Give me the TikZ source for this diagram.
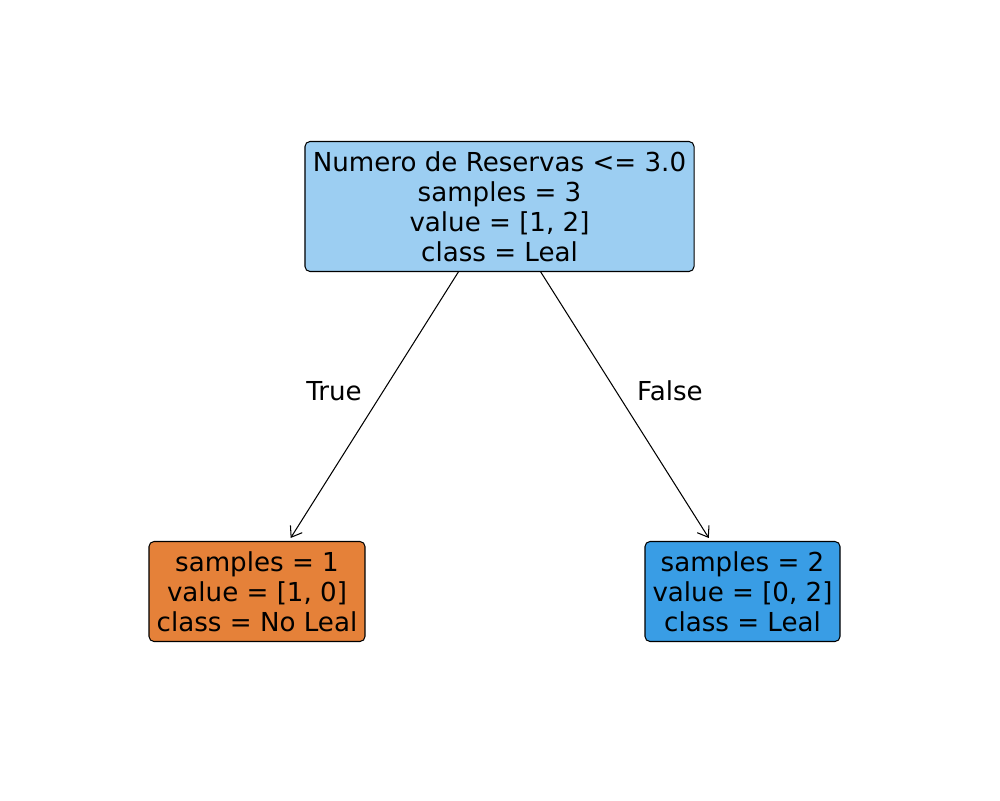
\documentclass[tikz,border=0pt]{standalone}
\usepackage{fontspec}
\setmainfont{DejaVu Sans}
\usetikzlibrary{arrows.meta}
\definecolor{rootblue}{HTML}{9CCEF2}
\definecolor{leaforange}{HTML}{E58139}
\definecolor{leafblue}{HTML}{399DE5}
\begin{document}
\begin{tikzpicture}[x=0.72pt,y=-0.72pt,
  treenode/.style={draw=black, line width=0.75pt, rounded corners=3.6pt, align=center,
    inner sep=0pt, outer sep=0pt, font=\fontsize{18.8}{21.6}\selectfont},
  edge/.style={line width=0.75pt, -{Straight Barb[length=7pt,width=10pt,line width=0.75pt]}, shorten >=3pt},
  lbl/.style={font=\fontsize{18.8}{21.6}\selectfont, inner sep=0pt}]
\useasboundingbox (0,0) rectangle (1000,800);
\node[treenode, fill=rootblue, minimum width=280.1pt, minimum height=93.6pt] (root) at (499.5,206.5)
  {Numero de Reservas <= 3.0\\samples = 3\\value = [1, 2]\\class = Leal};
\node[treenode, fill=leaforange, minimum width=155.5pt, minimum height=72pt] (left) at (257,591.5)
  {samples = 1\\value = [1, 0]\\class = No Leal};
\node[treenode, fill=leafblue, minimum width=140.4pt, minimum height=72pt] (right) at (742.5,591.5)
  {samples = 2\\value = [0, 2]\\class = Leal};
\draw[edge] (root) -- (left);
\draw[edge] (root) -- (right);
\node[lbl] (ltrue) at (334,391) {True};
\node[lbl] (lfalse) at (670,391) {False};
\end{tikzpicture}
\end{document}
